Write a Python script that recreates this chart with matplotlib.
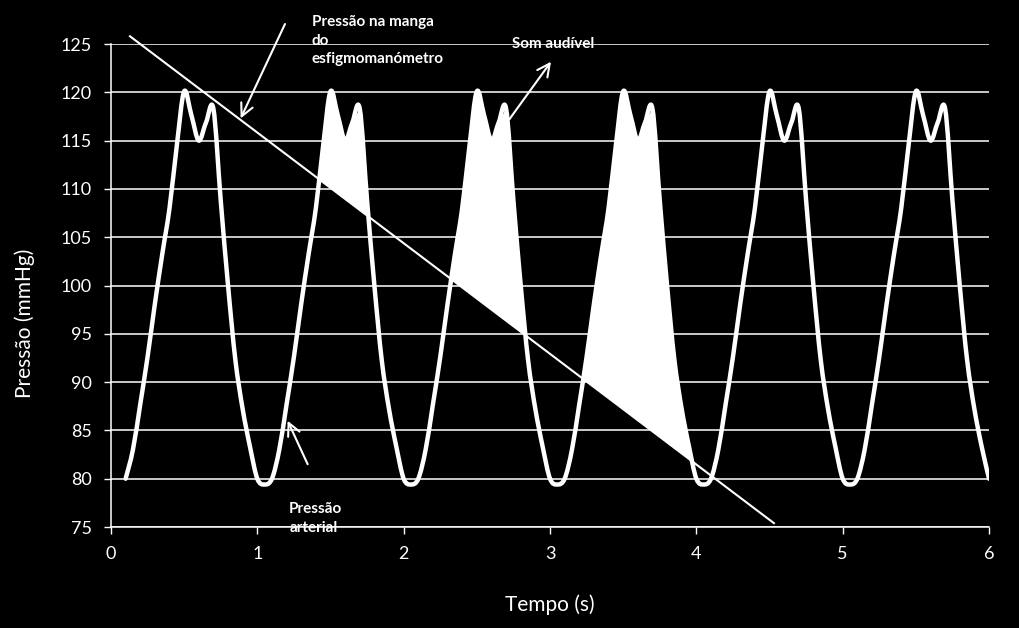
import numpy as np
import matplotlib
matplotlib.use('Agg')
import matplotlib.pyplot as plt
from matplotlib.path import Path
from matplotlib.patches import PathPatch

plt.rcParams['font.family'] = ['Lato', 'DejaVu Sans']

# one heartbeat of arterial pressure
# (time within each second, pressure in mmHg)
beat_phase = [0.10, 0.15, 0.20, 0.25, 0.30, 0.35, 0.40, 0.45, 0.50, 0.55,
              0.60, 0.65, 0.70, 0.75, 0.80, 0.85, 0.90, 0.95, 1.00, 1.05]
beat_pressure = [80.0, 83.0, 87.7, 92.6, 98.1, 103.2, 108.0, 114.5, 120.1, 117.6,
                 115.0, 116.9, 118.3, 108.8, 100.0, 92.3, 87.2, 83.3, 80.0, 79.4]
beat_starts = [0, 1, 2, 3, 4, 5]
end_time = 6.0

# cuff pressure falls in a straight line
cuff_time = [0.13, 4.53]
cuff_pressure = [125.8, 75.4]

# audible sound window (between systolic and diastolic)
sound_window = (1.0, 4.0)

x_ticks = [0, 1, 2, 3, 4, 5, 6]
y_ticks = [75, 80, 85, 90, 95, 100, 105, 110, 115, 120, 125]


def smooth_path(x, y):
    """Excel-style smoothed line: Catmull-Rom through the points as cubic Beziers."""
    pts = np.column_stack([x, y])
    p = np.vstack([pts[0], pts, pts[-1]])
    verts = [pts[0]]
    codes = [Path.MOVETO]
    for i in range(1, len(p) - 2):
        c1 = p[i] + (p[i + 1] - p[i - 1]) / 6
        c2 = p[i + 1] - (p[i + 2] - p[i]) / 6
        verts += [c1, c2, p[i + 1]]
        codes += [Path.CURVE4] * 3
    return Path(verts, codes)


time = np.concatenate([s + np.array(beat_phase) for s in beat_starts])
pressure = np.tile(beat_pressure, len(beat_starts))
keep = time <= end_time + 1e-9
time, pressure = time[keep], pressure[keep]

cuff_at_time = np.interp(time, cuff_time, cuff_pressure, right=np.nan)

fig = plt.figure(figsize=(10.19, 6.28), dpi=100, facecolor='black')
ax = fig.add_axes([0.1089, 0.1608, 0.8617, 0.7691])
ax.set_facecolor('black')

ax.set_xlim(0, 6)
ax.set_ylim(75, 125)
ax.set_xticks(x_ticks)
ax.set_yticks(y_ticks)
ax.yaxis.grid(True, color='white', lw=1.1)
ax.set_axisbelow(True)
for side in ['top', 'right']:
    ax.spines[side].set_visible(False)
for side in ['left', 'bottom']:
    ax.spines[side].set_color('white')
    ax.spines[side].set_linewidth(1.1)
ax.tick_params(colors='white', direction='out', length=5, width=1,
               labelsize=13, pad=9)

# shaded area: arterial pressure above cuff pressure -> audible sound
mask = (pressure > cuff_at_time) & (time > sound_window[0]) & (time < sound_window[1])
ax.fill_between(time, pressure, cuff_at_time, where=mask, interpolate=True,
                color='white', lw=0, zorder=2)

ax.add_patch(PathPatch(smooth_path(time, pressure), fill=False, edgecolor='white',
                       lw=3.2, capstyle='round', joinstyle='round', zorder=3))
ax.plot(cuff_time, cuff_pressure, color='white', lw=1.5, clip_on=False, zorder=4)

arrow = dict(arrowstyle='->,head_length=0.9,head_width=0.45', color='white',
             lw=1.5, mutation_scale=10, shrinkA=0, shrinkB=0)
ax.annotate('', xy=(0.886, 117.3), xytext=(1.189, 127.07), arrowprops=arrow,
            annotation_clip=False)
ax.annotate('', xy=(3.007, 123.17), xytext=(2.722, 117.2), arrowprops=arrow,
            annotation_clip=False)
ax.annotate('', xy=(1.207, 86.0), xytext=(1.344, 81.5), arrowprops=arrow,
            annotation_clip=False)

# multi-line texts are placed by the baseline of their last line
note = dict(color='white', fontsize=11, fontweight='bold', va='baseline',
            ha='left', linespacing=1.44, clip_on=False)
ax.text(1.372, 123.0, 'Pressão na manga\ndo\nesfigmomanómetro', **note)
ax.text(2.738, 124.59, 'Som audível', **note)
ax.text(1.218, 74.51, 'Pressão\narterial', **note)

ax.set_xlabel('Tempo (s)', color='white', fontsize=15)
ax.set_ylabel('Pressão (mmHg)', color='white', fontsize=15, va='center')
ax.yaxis.set_label_coords(-0.098, 0.421)
ax.xaxis.set_label_coords(0.5, -0.14)

fig.savefig('out.png', dpi=100, facecolor='black')
